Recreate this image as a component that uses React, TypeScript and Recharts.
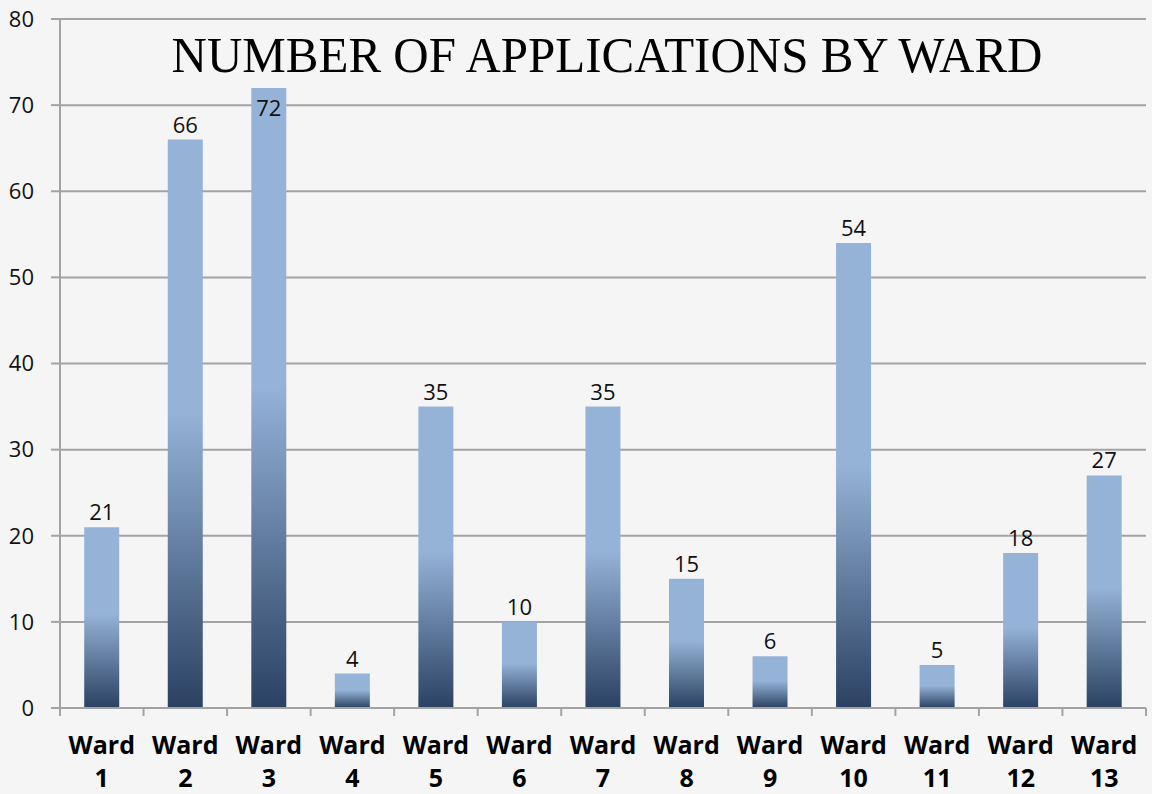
import React from "react";
import { BarChart, Bar, XAxis, YAxis, CartesianGrid, LabelList } from "recharts";

const wards = ["Ward 1", "Ward 2", "Ward 3", "Ward 4", "Ward 5", "Ward 6", "Ward 7", "Ward 8", "Ward 9", "Ward 10", "Ward 11", "Ward 12", "Ward 13"];
const applications = [21, 66, 72, 4, 35, 10, 35, 15, 6, 54, 5, 18, 27];
const yTicks = [0, 10, 20, 30, 40, 50, 60, 70, 80];

const data = wards.map((ward, i) => ({ ward, applications: applications[i] }));

const GRID = "#a3a3a3";
const FONT = "'Open Sans', sans-serif";

// two-line ward label plus a tick mark on the left edge of each category
const WardTick = (props: any) => {
  const { x, y, payload, index, width, visibleTicksCount } = props;
  const band = (width || 1086) / (visibleTicksCount || wards.length);
  const [word, num] = String(payload.value).split(" ");
  const last = index === (visibleTicksCount || wards.length) - 1;
  return (
    <g>
      <line x1={x - band / 2} x2={x - band / 2} y1={y - 8} y2={y} stroke={GRID} strokeWidth={2} />
      {last && <line x1={x + band / 2} x2={x + band / 2} y1={y - 8} y2={y} stroke={GRID} strokeWidth={2} />}
      <text textAnchor="middle" fontFamily={FONT} fontWeight={700} fontSize={25} fill="#000">
        <tspan x={x} y={y + 38}>{word}</tspan>
        <tspan x={x} y={y + 71}>{num}</tspan>
      </text>
    </g>
  );
};

// value above the bar, or tucked inside when it would run into the top
const ValueLabel = (props: any) => {
  const { x, y, width, value } = props;
  const inside = value >= 70;
  return (
    <text x={x + width / 2} y={inside ? y + 28 : y - 7} textAnchor="middle" fontFamily={FONT} fontSize={22} fill="#111">
      {value}
    </text>
  );
};

export default function App() {
  return (
    <div style={{ position: "absolute", left: 0, top: 0, width: 1152, height: 794, background: "#f5f5f5" }}>
      <BarChart width={1152} height={794} data={data} margin={{ top: 19, right: 6, left: 0, bottom: 0 }} barCategoryGap="29%">
        <defs>
          <linearGradient id="barGrad" x1="0" y1="0" x2="0" y2="1">
            <stop offset="0" stopColor="#95b3d7" />
            <stop offset="0.48" stopColor="#95b3d7" />
            <stop offset="1" stopColor="#2a4162" />
          </linearGradient>
        </defs>
        <CartesianGrid vertical={false} stroke={GRID} strokeWidth={2} />
        <XAxis
          dataKey="ward"
          height={86}
          interval={0}
          tickLine={false}
          tickSize={8}
          tickMargin={0}
          axisLine={{ stroke: GRID, strokeWidth: 2 }}
          tick={<WardTick />}
        />
        <YAxis
          width={60}
          domain={[0, 80]}
          ticks={yTicks}
          interval={0}
          tickSize={9}
          tickMargin={17}
          axisLine={{ stroke: GRID, strokeWidth: 2 }}
          tickLine={{ stroke: GRID, strokeWidth: 2 }}
          tick={{ fontFamily: FONT, fontSize: 22, fill: "#111" }}
        />
        <Bar dataKey="applications" fill="url(#barGrad)" isAnimationActive={false}>
          <LabelList dataKey="applications" content={<ValueLabel />} />
        </Bar>
      </BarChart>
      <svg width={1152} height={100} style={{ position: "absolute", left: 0, top: 0, pointerEvents: "none" }}>
        <text
          x={607}
          y={72}
          textAnchor="middle"
          fontFamily="'Liberation Serif', serif"
          fontSize={50}
          textLength={871}
          lengthAdjust="spacingAndGlyphs"
          fill="#000"
        >
          NUMBER OF APPLICATIONS BY WARD
        </text>
      </svg>
    </div>
  );
}
